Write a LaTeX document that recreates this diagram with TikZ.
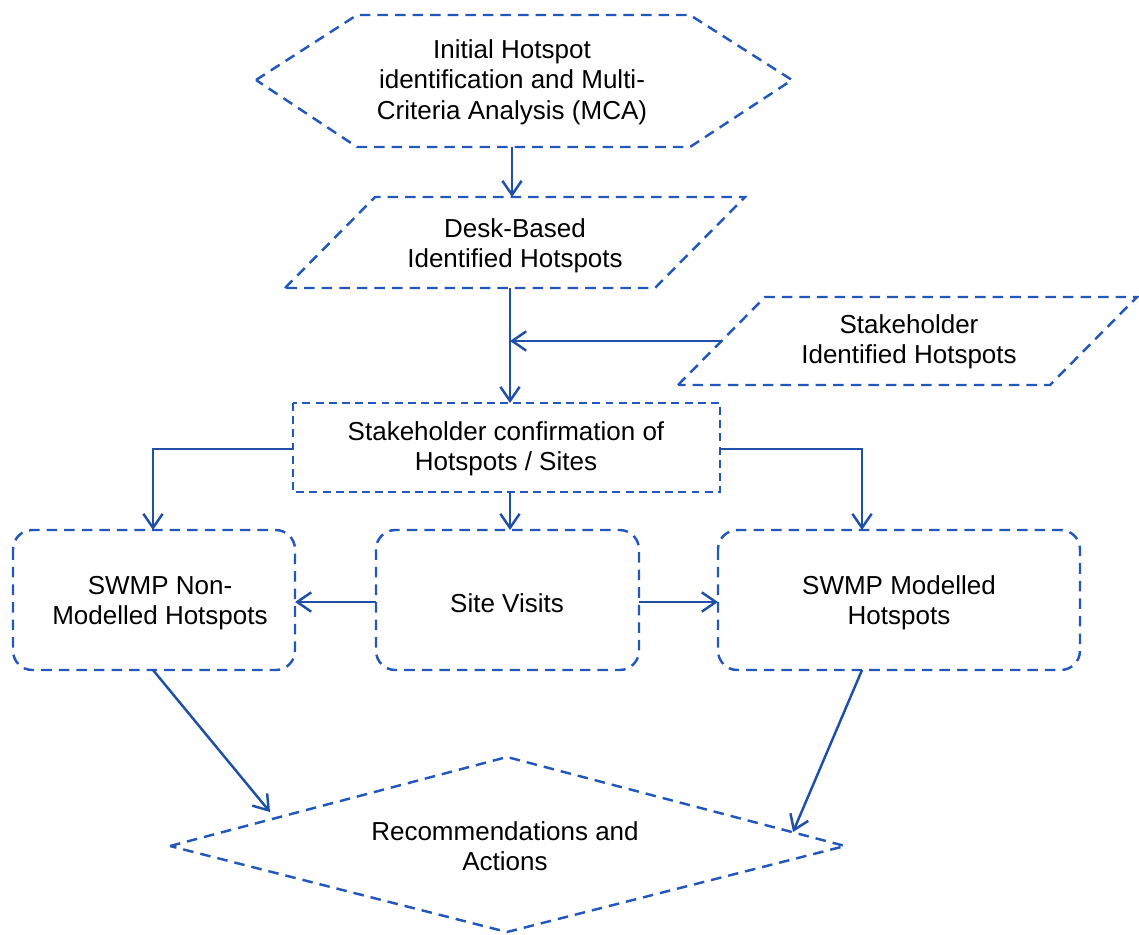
\documentclass[tikz,border=0pt]{standalone}
\usepackage{fontspec}
\setmainfont{Liberation Sans}
\usetikzlibrary{arrows.meta}
\definecolor{lineblue}{HTML}{1F4FA8}
\definecolor{dashblue}{HTML}{2357BB}
\begin{document}
\begin{tikzpicture}[x=0.02cm,y=-0.02cm,
  shapeline/.style={draw=dashblue, line width=1.4pt, dash pattern=on 6pt off 4pt},
  shortdash/.style={draw=dashblue, line width=1.4pt, dash pattern=on 4.5pt off 3pt},
  conn/.style={draw=lineblue, line width=1.4pt, -{Straight Barb[length=8pt,width=11pt]}},
  lbl/.style={font=\fontsize{14.8}{17.3}\selectfont, align=center, text=black, inner sep=0pt}]
\useasboundingbox (0,0) rectangle (1139,934);
% shapes
\draw[shapeline] (256,80) -- (357,15) -- (690,15) -- (792,80) -- (690,147) -- (357,147) -- cycle;
\draw[shapeline] (285,288) -- (375,197) -- (745,197) -- (655,288) -- cycle;
\draw[shapeline] (678,385) -- (765,297) -- (1137,297) -- (1050,385) -- cycle;
\draw[shortdash] (293,403) rectangle (720,492);
\draw[shapeline, rounded corners=11pt] (13,530) rectangle (295,670);
\draw[shapeline, rounded corners=11pt] (376,530) rectangle (639,670);
\draw[shapeline, rounded corners=11pt] (718,530) rectangle (1080,670);
\draw[shapeline] (170,846) -- (507,757) -- (845,846) -- (507,932) -- cycle;
% texts
\node[lbl] (hex) at (512,82) {Initial Hotspot\\identification and Multi-\\Criteria Analysis (MCA)};
\node[lbl] (desk) at (515,246) {Desk-Based\\Identified Hotspots};
\node[lbl] (sih) at (909,342) {Stakeholder\\Identified Hotspots};
\node[lbl] (conf) at (506,449) {Stakeholder confirmation of\\Hotspots / Sites};
\node[lbl] (nonmod) at (160,603) {SWMP Non-\\Modelled Hotspots};
\node[lbl] (visits) at (507,603) {Site Visits};
\node[lbl] (mod) at (899,603) {SWMP Modelled\\Hotspots};
\node[lbl] (rec) at (505,846) {Recommendations and\\Actions};
% connector end points
\coordinate (hexB) at (512,147);
\coordinate (deskT) at (512,197);
\coordinate (deskB) at (510,288);
\coordinate (confT) at (510,403);
\coordinate (sihL) at (722,341);
\coordinate (join) at (510,341);
\coordinate (confL) at (293,449);
\coordinate (confR) at (720,449);
\coordinate (confB) at (510,492);
\coordinate (lbT) at (153,530);
\coordinate (rbT) at (862,530);
\coordinate (mbT) at (510,530);
\coordinate (mbL) at (376,602);
\coordinate (mbR) at (639,602);
\coordinate (lbR) at (295,602);
\coordinate (rbL) at (718,602);
\coordinate (lbB) at (153,670);
\coordinate (rbB) at (862,670);
\coordinate (dL) at (270,812);
\coordinate (dR) at (793,832);
% connectors
\draw[conn] (hexB) -- (deskT);
\draw[conn] (deskB) -- (confT);
\draw[conn] (sihL) -- (join);
\draw[conn] (confL) -| (lbT);
\draw[conn] (confR) -| (rbT);
\draw[conn] (confB) -- (mbT);
\draw[conn] (mbL) -- (lbR);
\draw[conn] (mbR) -- (rbL);
\draw[conn] (lbB) -- (dL);
\draw[conn] (rbB) -- (dR);
\end{tikzpicture}
\end{document}
